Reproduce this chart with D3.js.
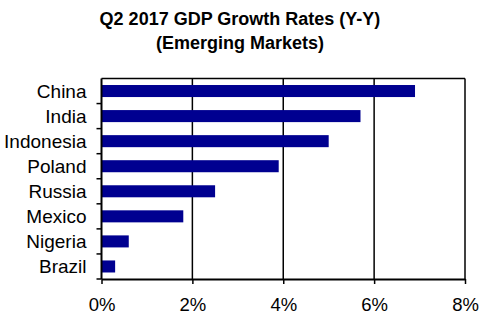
<!DOCTYPE html>
<html>
<head>
<meta charset="utf-8">
<script src="https://cdn.jsdelivr.net/npm/d3@7"></script>
<style>
  body { margin: 0; background: #fff; }
  svg { display: block; font-family: "Liberation Sans", Arial, sans-serif; }
</style>
</head>
<body>
<svg id="chart" width="496" height="325"></svg>
<script>
// ── Data ──────────────────────────────────────────────────────
const countries = ['China', 'India', 'Indonesia', 'Poland', 'Russia', 'Mexico', 'Nigeria', 'Brazil'];
const growth = [6.9, 5.7, 5.0, 3.9, 2.5, 1.8, 0.6, 0.3];
const xTicks = [0, 2, 4, 6, 8];
const titleLines = ['Q2 2017 GDP Growth Rates (Y-Y)', '(Emerging Markets)'];

const rows = countries.map((c, i) => ({ country: c, value: growth[i] }));

const svg = d3.select('#chart');
const margin = { top: 78.5, right: 31, bottom: 46, left: 101.5 };
const width = 496 - margin.left - margin.right;
const height = 325 - margin.top - margin.bottom;

const x = d3.scaleLinear().domain([0, 8]).range([0, width]);
const y = d3.scaleBand().domain(countries).range([0, height]).paddingInner(0.52).paddingOuter(0.26);
const band = d3.scaleBand().domain(countries).range([0, height]);

// ── Title ─────────────────────────────────────────────────────
svg.append('g').selectAll('text')
  .data(titleLines)
  .join('text')
  .attr('x', 240)
  .attr('y', (d, i) => 25 + i * 23.5)
  .attr('text-anchor', 'middle')
  .attr('font-size', '18px')
  .attr('font-weight', 'bold')
  .text(d => d);

const g = svg.append('g').attr('transform', `translate(${margin.left},${margin.top})`);

// ── Grid + frame ──────────────────────────────────────────────
g.append('g').selectAll('line')
  .data(xTicks.slice(1))
  .join('line')
  .attr('x1', d => x(d)).attr('x2', d => x(d))
  .attr('y1', 0).attr('y2', height)
  .attr('stroke', '#000').attr('stroke-width', 1.5);

g.append('line')
  .attr('x1', 0).attr('x2', width)
  .attr('y1', 0).attr('y2', 0)
  .attr('stroke', '#000').attr('stroke-width', 1.5);

// ── Bars ──────────────────────────────────────────────────────
g.append('g').selectAll('rect')
  .data(rows)
  .join('rect')
  .attr('x', 0)
  .attr('y', d => y(d.country))
  .attr('width', d => x(d.value))
  .attr('height', y.bandwidth())
  .attr('fill', '#000090');

// ── Axes ──────────────────────────────────────────────────────
const xAxis = g.append('g')
  .attr('transform', `translate(0,${height})`)
  .call(d3.axisBottom(x).tickValues(xTicks).tickFormat(d => d + '%').tickSize(5).tickSizeOuter(0));
xAxis.select('.domain').attr('stroke-width', 2);
xAxis.selectAll('.tick line').attr('stroke-width', 1.5);
xAxis.selectAll('text')
  .attr('font-size', '18.5px').attr('fill', '#000')
  .attr('y', 0).attr('dy', null)
  .attr('transform', `translate(0,${311 - margin.top - height})`)
  .attr('font-family', '"Liberation Sans", Arial, sans-serif');

// left axis: ticks at band boundaries, labels at band centers
g.append('g').selectAll('line')
  .data(countries)
  .join('line')
  .attr('x1', -5).attr('x2', 0)
  .attr('y1', d => band(d) + band.bandwidth())
  .attr('y2', d => band(d) + band.bandwidth())
  .attr('stroke', '#000').attr('stroke-width', 1.5);

g.append('line')
  .attr('x1', 0).attr('x2', 0)
  .attr('y1', 0).attr('y2', height)
  .attr('stroke', '#000').attr('stroke-width', 2);

g.append('g').selectAll('text')
  .data(countries)
  .join('text')
  .attr('x', -15)
  .attr('y', d => band(d) + band.bandwidth() / 2)
  .attr('dy', '0.36em')
  .attr('text-anchor', 'end')
  .attr('font-size', '19px')
  .text(d => d);
</script>
</body>
</html>
